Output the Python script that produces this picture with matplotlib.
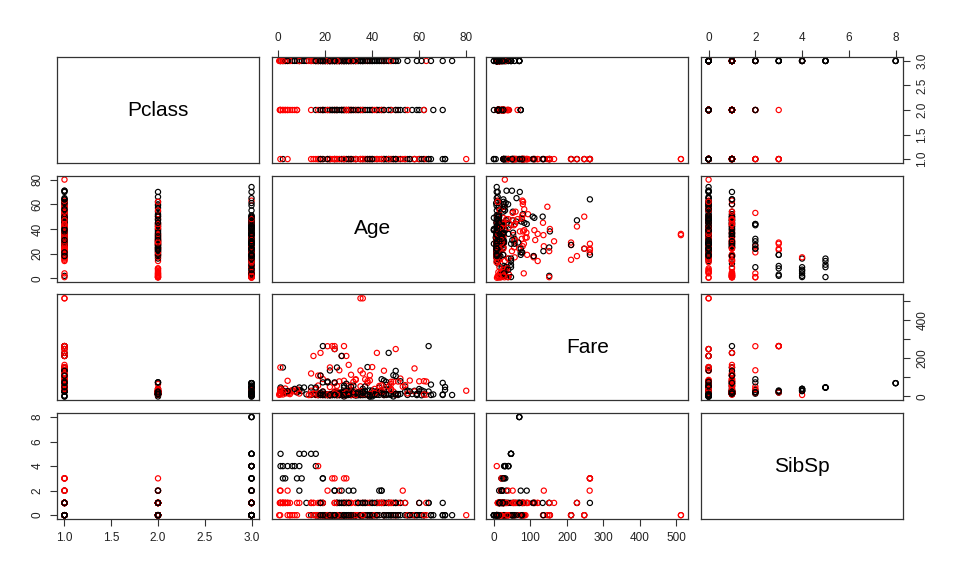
import numpy as np
import matplotlib.pyplot as plt

plt.rcParams['font.family'] = ['Liberation Sans', 'DejaVu Sans']

# ---- first class, survived (red)
age_c1_lived = [38, 35, 58, 49, 23, 24, 28, 35, 36, 0.92,
                4, 14, 15, 16, 17, 18, 19, 21, 22, 24,
                24, 26, 27, 28, 29, 30, 31, 33, 35, 36,
                38, 39, 40, 42, 44, 45, 48, 49, 50, 52,
                53, 54, 56, 58, 60, 62, 63, 80, 47, 32,
                22, 25, 30, 41, 51, 18, 21, 33, 37, 43,
                17, 26, 31, 39, 48]
fare_c1_lived = [71.28, 53.1, 26.55, 76.73, 263.0, 263.0, 263.0, 512.33, 512.33, 151.55,
                 81.86, 120.0, 211.34, 39.4, 57.0, 227.53, 91.08, 262.38, 151.55, 69.3,
                 247.52, 136.78, 211.5, 82.17, 211.34, 164.87, 113.28, 90.0, 135.63, 120.0,
                 80.0, 110.88, 153.46, 227.53, 57.98, 134.5, 76.73, 25.93, 247.52, 93.5,
                 51.48, 59.4, 83.16, 146.52, 79.2, 80.0, 77.96, 30.0, 52.55, 76.29,
                 49.5, 55.44, 56.93, 39.6, 77.96, 108.9, 77.96, 86.5, 89.1, 55.0,
                 108.9, 78.85, 57.0, 83.16, 39.6]
sibsp_c1_lived = [1, 1, 0, 1, 3, 3, 3, 0, 0, 1,
                  0, 1, 0, 0, 0, 1, 1, 2, 0, 0,
                  0, 2, 0, 1, 0, 1, 1, 1, 0, 1,
                  0, 1, 0, 1, 1, 0, 1, 0, 0, 1,
                  2, 1, 0, 0, 1, 0, 1, 0, 1, 0,
                  0, 0, 1, 0, 1, 1, 0, 0, 1, 1,
                  1, 0, 0, 0, 0]

# ---- first class, died (black)
age_c1_died = [54, 19, 64, 40, 39, 2, 45, 46, 47, 50,
               28, 31, 36, 37, 42, 49, 52, 55, 56, 58,
               60, 61, 62, 64, 65, 70, 71, 71, 24, 27,
               30, 33, 18, 45, 25, 38, 22, 29, 50, 21,
               44, 46, 40, 47]
fare_c1_died = [51.86, 263.0, 263.0, 0.0, 0.0, 151.55, 83.47, 61.18, 52.0, 133.65,
                47.1, 50.5, 40.13, 52.55, 26.55, 110.88, 79.65, 30.5, 26.55, 29.7,
                26.55, 32.32, 26.55, 26.0, 61.98, 71.0, 34.65, 49.5, 247.52, 211.5,
                27.75, 5.0, 108.9, 35.5, 151.55, 153.46, 135.63, 66.6, 106.43, 77.29,
                90.0, 75.24, 31.0, 227.53]
sibsp_c1_died = [0, 3, 1, 0, 0, 1, 1, 1, 0, 1,
                 0, 0, 0, 1, 0, 1, 1, 0, 0, 0,
                 0, 0, 0, 1, 0, 1, 0, 0, 0, 0,
                 0, 0, 1, 0, 1, 0, 0, 1, 1, 0,
                 2, 0, 0, 1]

# ---- second class, survived
age_c2_lived = [0.67, 0.83, 1, 2, 3, 4, 5, 6, 7, 8,
                8, 14, 17, 19, 22, 24, 29, 27, 28, 29,
                31, 32, 34, 36, 40, 42, 45, 48, 50, 55,
                62, 3, 1, 25, 33, 30, 21, 41, 24, 28,
                35, 19, 31, 44, 2, 4]
fare_c2_lived = [14.5, 29.0, 39.0, 26.0, 41.58, 23.0, 27.75, 33.0, 26.25, 36.75,
                 26.25, 30.07, 10.5, 26.0, 13.0, 26.0, 21.0, 13.0, 26.0, 10.5,
                 21.0, 13.0, 23.0, 13.0, 15.75, 13.0, 26.25, 65.0, 10.5, 16.0,
                 10.5, 18.75, 37.0, 26.0, 26.0, 13.0, 10.5, 19.5, 13.0, 26.0,
                 21.0, 13.0, 13.0, 26.0, 26.0, 23.0]
sibsp_c2_lived = [1, 0, 2, 1, 1, 2, 1, 0, 0, 0,
                  1, 1, 0, 1, 0, 1, 3, 0, 1, 0,
                  0, 0, 0, 0, 0, 0, 1, 1, 0, 0,
                  0, 1, 1, 1, 1, 0, 0, 0, 0, 1,
                  0, 0, 0, 1, 1, 1]

# ---- second class, died
age_c2_died = [16, 18, 19, 21, 23, 24, 25, 27, 28, 30,
               31, 32, 34, 36, 39, 42, 44, 47, 50, 51,
               54, 57, 59, 60, 62, 66, 70, 35, 38, 26,
               29, 43, 23, 45, 52, 30, 33, 20, 22, 25,
               37, 40, 48, 27]
fare_c2_died = [10.5, 11.5, 73.5, 73.5, 13.0, 73.5, 26.0, 21.0, 10.5, 13.0,
                26.25, 13.0, 21.0, 26.0, 0.0, 27.0, 26.0, 10.5, 13.0, 12.53,
                26.0, 12.35, 13.5, 39.0, 10.5, 10.5, 10.5, 26.0, 13.0, 10.5,
                27.72, 21.0, 11.5, 13.5, 13.0, 10.5, 12.88, 13.0, 10.5, 13.0,
                26.0, 13.0, 13.0, 21.0]
sibsp_c2_died = [0, 0, 0, 0, 0, 2, 1, 1, 0, 0,
                 0, 0, 1, 0, 0, 1, 1, 0, 0, 0,
                 1, 0, 0, 1, 0, 0, 0, 0, 0, 0,
                 1, 2, 0, 0, 0, 0, 0, 0, 0, 0,
                 1, 0, 0, 1]

# ---- third class, survived
age_c3_lived = [0.42, 0.75, 1, 2, 3, 4, 17, 5, 9, 13,
                14, 15, 16, 18, 19, 20, 21, 22, 24, 25,
                26, 27, 28, 29, 31, 32, 35, 36, 38, 39,
                45, 48, 63, 4, 1, 22, 27, 33, 24, 19,
                26, 30, 15, 18, 5, 22, 23, 24, 26, 29,
                31, 17, 21, 16, 3, 2, 28, 30, 19, 25]
fare_c3_lived = [8.52, 19.26, 11.13, 10.46, 15.9, 16.7, 7.92, 19.26, 15.25, 7.23,
                 11.24, 14.45, 7.75, 9.84, 7.88, 9.23, 7.65, 7.25, 16.7, 7.23,
                 7.93, 11.13, 7.78, 15.25, 20.53, 7.85, 7.05, 9.5, 7.23, 13.42,
                 7.75, 34.38, 9.59, 22.03, 15.74, 7.75, 12.48, 7.78, 15.5, 7.85,
                 8.05, 8.66, 14.45, 7.73, 12.29, 7.75, 8.05, 9.5, 7.92, 7.23,
                 7.75, 7.73, 7.75, 8.05, 26.0, 22.36, 7.88, 12.48, 7.85, 9.59]
sibsp_c3_lived = [0, 2, 1, 1, 1, 1, 4, 0, 1, 0,
                  1, 1, 0, 0, 0, 0, 0, 0, 0, 0,
                  0, 0, 0, 1, 1, 0, 0, 0, 0, 0,
                  0, 1, 0, 1, 1, 0, 0, 0, 1, 0,
                  0, 0, 1, 0, 0, 0, 0, 0, 0, 0,
                  0, 0, 0, 0, 1, 1, 0, 0, 0, 0]

# ---- third class, died (nan = age unknown)
nan = float('nan')
age_c3_died = [1, 1, 2, 2, 3, 4, 7, 8, 9, 9,
               10, 11, 14, 16, 16, 6, 12, 14, 17, 18,
               19, 20, 20, 21, 22, 22, 23, 24, 25, 25,
               26, 27, 28, 29, 30, 30, 31, 32, 33, 34,
               35, 36, 37, 38, 39, 40, 40, 41, 42, 43,
               44, 45, 46, 47, 48, 49, 50, 51, 55, 59,
               61, 65, 70, 74, 43, 19, 9, 24, 30, 32,
               nan, nan, nan, nan, nan, 21, 24, 26, 28, 33,
               18, 22, 29, 36, 20, 27, 23, 31, 34, 45,
               19, 27, 44, 37, 22, 17, 26, 28, 40, 20,
               21, 23, 25, 26, 28, 29, 31, 33, 35, 38,
               20, 22, 24, 27, 30, 32, 34, 36, 39, 42,
               17, 19, 21, 25, 28, 18, 26, 29, 33, 16,
               47, 50, 24, 22, 35, 28, 36, 41, 23, 30]
fare_c3_died = [39.69, 46.9, 29.13, 31.27, 21.08, 27.9, 39.69, 21.08, 46.9, 31.39,
                27.9, 46.9, 46.9, 46.9, 39.69, 31.27, 11.24, 7.85, 8.66, 17.8,
                8.05, 7.85, 9.5, 7.8, 7.25, 8.05, 7.55, 8.05, 7.05, 17.8,
                7.9, 8.66, 7.9, 9.48, 8.05, 16.1, 7.75, 56.5, 8.65, 6.5,
                8.05, 24.15, 7.92, 7.9, 31.27, 27.9, 7.9, 14.1, 8.66, 8.05,
                16.1, 14.45, 7.9, 14.5, 7.85, 0.0, 8.05, 7.75, 8.05, 7.25,
                6.24, 7.75, 7.75, 7.78, 46.9, 14.46, 34.38, 24.15, 21.68, 21.68,
                69.55, 69.55, 69.55, 69.55, 69.55, 7.75, 7.9, 14.45, 7.9, 8.05,
                7.78, 7.23, 8.05, 15.55, 7.85, 7.9, 9.35, 7.78, 14.4, 6.98,
                25.47, 14.45, 19.97, 7.93, 9.0, 7.23, 14.45, 7.9, 15.5, 7.92,
                7.75, 7.9, 8.05, 7.85, 56.5, 7.23, 7.9, 8.05, 7.75, 8.66,
                7.9, 7.05, 9.5, 7.75, 8.05, 7.92, 14.45, 7.8, 7.9, 24.15,
                8.66, 7.75, 7.85, 7.9, 22.53, 8.3, 7.9, 7.05, 8.05, 9.5,
                34.02, 14.5, 7.5, 7.25, 8.05, 0.0, 7.5, 7.85, 8.05, 15.24]
sibsp_c3_died = [4, 5, 4, 3, 3, 4, 4, 3, 5, 4,
                 3, 5, 5, 5, 4, 4, 1, 0, 0, 1,
                 0, 0, 0, 0, 0, 0, 0, 0, 0, 1,
                 0, 0, 0, 0, 0, 1, 0, 0, 0, 0,
                 0, 1, 0, 0, 1, 1, 0, 1, 0, 0,
                 1, 1, 0, 1, 0, 0, 0, 0, 0, 0,
                 0, 0, 0, 0, 1, 1, 2, 2, 2, 2,
                 8, 8, 8, 1, 1, 0, 0, 1, 0, 0,
                 0, 0, 0, 1, 0, 0, 0, 0, 1, 0,
                 3, 2, 2, 0, 0, 0, 1, 0, 1, 0,
                 0, 0, 0, 0, 0, 0, 0, 0, 0, 0,
                 0, 0, 0, 0, 0, 0, 1, 0, 0, 1,
                 0, 0, 0, 0, 1, 0, 0, 0, 0, 0,
                 1, 1, 0, 0, 0, 0, 0, 0, 0, 1]

names = ['Pclass', 'Age', 'Fare', 'SibSp']
ticks = {'Pclass': [1.0, 1.5, 2.0, 2.5, 3.0],
         'Age': [0, 20, 40, 60, 80],
         'Fare': [0, 100, 200, 300, 400, 500],
         'SibSp': [0, 2, 4, 6, 8]}
tick_labels = {'Pclass': ['1.0', '1.5', '2.0', '2.5', '3.0'],
               'Age': ['0', '20', '40', '60', '80'],
               'Fare': ['0', '100', '200', '300', '400', '500'],
               'SibSp': ['0', '2', '4', '6', '8']}
# R drops labels that would collide on the vertical axis
tick_labels_v = dict(tick_labels)
tick_labels_v['Fare'] = ['0', '', '200', '', '400', '']

groups = [(1, 1, age_c1_lived, fare_c1_lived, sibsp_c1_lived),
          (1, 0, age_c1_died, fare_c1_died, sibsp_c1_died),
          (2, 1, age_c2_lived, fare_c2_lived, sibsp_c2_lived),
          (2, 0, age_c2_died, fare_c2_died, sibsp_c2_died),
          (3, 1, age_c3_lived, fare_c3_lived, sibsp_c3_lived),
          (3, 0, age_c3_died, fare_c3_died, sibsp_c3_died)]

pclass, age, fare, sibsp, survived = [], [], [], [], []
for cls, surv, a, f, s in groups:
    pclass += [cls] * len(a)
    survived += [surv] * len(a)
    age += a
    fare += f
    sibsp += s

data = {'Pclass': np.array(pclass, float), 'Age': np.array(age, float),
        'Fare': np.array(fare, float), 'SibSp': np.array(sibsp, float)}
survived = np.array(survived)

# mix the draw order a bit so neither colour sits fully on top
order = np.argsort(np.arange(len(survived)) % 7, kind='stable')
for k in data:
    data[k] = data[k][order]
survived = survived[order]
colors = np.where(survived == 1, 'red', 'black')

lims = {}
for k, v in data.items():
    lo, hi = np.nanmin(v), np.nanmax(v)
    pad = 0.04 * (hi - lo)
    lims[k] = (lo - pad, hi + pad)

W, H = 960, 576
fig = plt.figure(figsize=(W / 100, H / 100), dpi=100)
n = len(names)
for i in range(n):
    for j in range(n):
        x0 = 57 + j * 214.7
        y0 = 57 + i * 118.7
        ax = fig.add_axes([x0 / W, 1 - (y0 + 106) / H, 202 / W, 106 / H])
        for sp in ax.spines.values():
            sp.set_color('#333333')
            sp.set_linewidth(0.9)
        ax.set_xticks([])
        ax.set_yticks([])
        xn, yn = names[j], names[i]
        if i == j:
            ax.text(0.5, 0.5, xn, transform=ax.transAxes, ha='center',
                    va='center', fontsize=15)
            continue
        ax.scatter(data[xn], data[yn], s=14, facecolors='none',
                   edgecolors=colors, linewidths=0.85)
        ax.set_xlim(lims[xn])
        ax.set_ylim(lims[yn])

        if i == 0 and j % 2 == 1:
            ax.set_xticks(ticks[xn])
            ax.set_xticklabels(tick_labels[xn])
            ax.tick_params(axis='x', top=True, labeltop=True,
                           bottom=False, labelbottom=False)
        if i == n - 1 and j % 2 == 0:
            ax.set_xticks(ticks[xn])
            ax.set_xticklabels(tick_labels[xn])
        if j == 0 and i % 2 == 1:
            ax.set_yticks(ticks[yn])
            ax.set_yticklabels(tick_labels_v[yn], rotation=90, va='center')
        if j == n - 1 and i % 2 == 0:
            ax.set_yticks(ticks[yn])
            ax.set_yticklabels(tick_labels_v[yn], rotation=90, va='center',
                               ha='left')
            ax.tick_params(axis='y', right=True, labelright=True,
                           left=False, labelleft=False)
        ax.tick_params(length=5, width=0.8, pad=4.5, labelsize=8.5,
                       color='#333333', labelcolor='#222222')

fig.savefig('out.png', dpi=100)
